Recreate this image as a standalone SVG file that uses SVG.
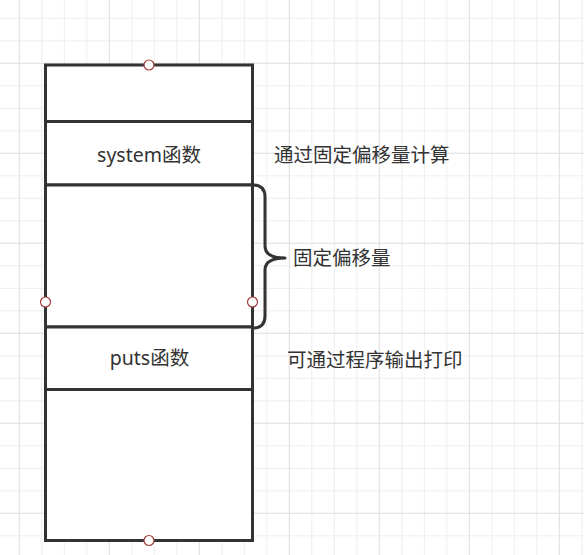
<svg xmlns="http://www.w3.org/2000/svg" width="584" height="555" viewBox="0 0 584 555">
<style>
.minor{stroke:#eeeeee;stroke-width:1;fill:none}
.major{stroke:#e3e3e3;stroke-width:1;fill:none}
.cell{fill:#ffffff;stroke:#333333;stroke-width:3}
.brace{fill:none;stroke:#333333;stroke-width:3;stroke-linejoin:round;stroke-linecap:round}
.pt{fill:#ffffff;stroke:#a33c3c;stroke-width:1.2}
text{font-family:"Noto Sans","Noto Sans CJK SC",sans-serif;font-size:19.5px;fill:#333333}
.c{text-anchor:middle}
</style>
<rect width="584" height="555" fill="#ffffff"/>
<g id="grid">
<path class="minor" d="M19.3,0V555M41.8,0V555M64.3,0V555M86.8,0V555M109.3,0V555M131.8,0V555M154.3,0V555M176.8,0V555M199.3,0V555M221.8,0V555M244.3,0V555M266.8,0V555M289.3,0V555M311.8,0V555M334.3,0V555M356.8,0V555M379.3,0V555M401.8,0V555M424.3,0V555M446.8,0V555M469.3,0V555M491.8,0V555M514.3,0V555M536.8,0V555M559.3,0V555M581.8,0V555"/>
<path class="minor" d="M0,18.3H584M0,40.8H584M0,63.3H584M0,85.8H584M0,108.3H584M0,130.8H584M0,153.3H584M0,175.8H584M0,198.3H584M0,220.8H584M0,243.3H584M0,265.8H584M0,288.3H584M0,310.8H584M0,333.3H584M0,355.8H584M0,378.3H584M0,400.8H584M0,423.3H584M0,445.8H584M0,468.3H584M0,490.8H584M0,513.3H584M0,535.8H584"/>
<path class="major" d="M19.3,0V555M109.3,0V555M199.3,0V555M289.3,0V555M379.3,0V555M469.3,0V555M559.3,0V555M0,63.3H584M0,153.3H584M0,243.3H584M0,333.3H584M0,423.3H584M0,513.3H584"/>
</g>
<g id="stack">
<g id="cell-top"><rect class="cell" x="45.5" y="65" width="207" height="56.5"/></g>
<g id="cell-system"><rect class="cell" x="45.5" y="121.5" width="207" height="63.5"/><text class="c" x="149" y="162">system函数</text></g>
<g id="cell-gap"><rect class="cell" x="45.5" y="185" width="207" height="142"/></g>
<g id="cell-puts"><rect class="cell" x="45.5" y="327" width="207" height="62.5"/><text class="c" x="149.5" y="365">puts函数</text></g>
<g id="cell-bottom"><rect class="cell" x="45.5" y="389.5" width="207" height="151"/></g>
</g>
<g id="brace"><path class="brace" d="M253,185 Q265,185 265,197 L265,246 Q265,258 285,258 Q265,258 265,270 L265,316 Q265,328 253,328"/></g>
<g id="labels">
<g id="label-calc"><text x="274" y="162">通过固定偏移量计算</text></g>
<g id="label-offset"><text x="293" y="265">固定偏移量</text></g>
<g id="label-print"><text x="287" y="367">可通过程序输出打印</text></g>
</g>
<g id="points">
<circle class="pt" cx="149" cy="65" r="5"/>
<circle class="pt" cx="149" cy="540.5" r="5"/>
<circle class="pt" cx="45.5" cy="302" r="5"/>
<circle class="pt" cx="252.5" cy="302" r="5"/>
</g>
</svg>
